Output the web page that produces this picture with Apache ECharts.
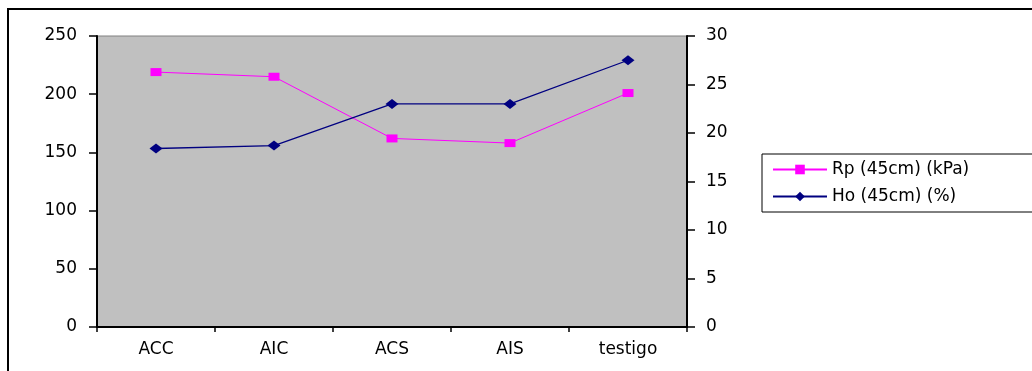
<!DOCTYPE html>
<html>
<head>
<meta charset="utf-8">
<script src="https://cdn.jsdelivr.net/npm/echarts@6/dist/echarts.min.js"></script>
<style>html,body{margin:0;padding:0;background:#fff;}#c{width:1032px;height:371px;}</style>
</head>
<body>
<div id="c"></div>
<script>
var categories = ['ACC', 'AIC', 'ACS', 'AIS', 'testigo'];
var rpValues = [219, 215, 162, 158, 201];
var hoValues = [18.4, 18.7, 23, 23, 27.5];
var rpName = 'Rp (45cm) (kPa)';
var hoName = 'Ho (45cm) (%)';

var FONT = 'DejaVu Sans';
var chart = echarts.init(document.getElementById('c'), null, {renderer: 'canvas'});
var diamond = 'path://M0,5 L6,0 L12,5 L6,10 Z';
chart.setOption({
  animation: false,
  backgroundColor: '#ffffff',
  textStyle: {fontFamily: FONT},
  graphic: [{
    type: 'rect', z: -10,
    shape: {x: 8, y: 9, width: 1100, height: 500},
    style: {fill: 'none', stroke: '#000', lineWidth: 2}
  }],
  grid: {
    left: 97, right: 345, top: 36, bottom: 44,
    show: true, backgroundColor: '#c0c0c0', borderColor: '#808080', borderWidth: 1
  },
  legend: {
    orient: 'vertical',
    left: 762, top: 154,
    padding: [6, 80, 6, 10],
    borderColor: '#000', borderWidth: 1,
    itemWidth: 54, itemHeight: 12, itemGap: 8,
    textStyle: {fontFamily: FONT, fontSize: 17, color: '#000', lineHeight: 19},
    data: [rpName, hoName]
  },
  xAxis: {
    type: 'category', data: categories, boundaryGap: true,
    axisLine: {lineStyle: {color: '#000', width: 2}},
    axisTick: {show: true, length: 5, lineStyle: {color: '#000', width: 1.5}},
    axisLabel: {color: '#000', fontFamily: FONT, fontSize: 17, margin: 14}
  },
  yAxis: [{
    type: 'value', min: 0, max: 250, interval: 50, position: 'left',
    axisLine: {show: true, lineStyle: {color: '#000', width: 2}},
    axisTick: {show: true, length: 8, lineStyle: {color: '#000', width: 1.5}},
    splitLine: {show: false},
    axisLabel: {color: '#000', fontFamily: FONT, fontSize: 17, margin: 20}
  }, {
    type: 'value', min: 0, max: 30, interval: 5, position: 'right',
    axisLine: {show: true, lineStyle: {color: '#000', width: 2}},
    axisTick: {show: true, length: 8, lineStyle: {color: '#000', width: 1.5}},
    splitLine: {show: false},
    axisLabel: {color: '#000', fontFamily: FONT, fontSize: 17, margin: 19}
  }],
  series: [{
    name: rpName, type: 'line', yAxisIndex: 0, data: rpValues,
    symbol: 'rect', symbolSize: [11, 8],
    itemStyle: {color: '#ff00ff'},
    lineStyle: {color: '#ff00ff', width: 1}
  }, {
    name: hoName, type: 'line', yAxisIndex: 1, data: hoValues,
    symbol: diamond, symbolSize: [13, 10],
    itemStyle: {color: '#000080'},
    lineStyle: {color: '#000080', width: 1.3}
  }]
});
</script>
</body>
</html>
